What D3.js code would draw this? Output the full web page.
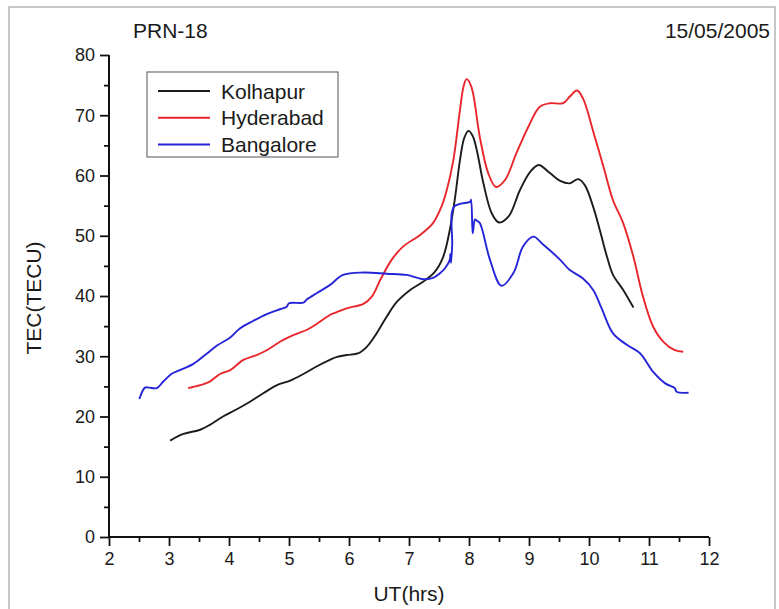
<!DOCTYPE html>
<html><head><meta charset="utf-8">
<script src="https://cdn.jsdelivr.net/npm/d3@7"></script>
<style>
html,body{margin:0;padding:0;background:#fff;}
svg{display:block;font-family:"Liberation Sans",Arial,sans-serif;}
</style></head>
<body>
<svg id="chart" width="779" height="609"></svg>
<script>
const seriesNames = ["Kolhapur","Hyderabad","Bangalore"];
const seriesColors = ["#1c1c1c","#e8262b","#2424d8"];

const kolhapurX = [3.02,3.24,3.52,3.68,3.9,4.13,4.35,4.57,4.8,5.02,5.24,5.46,5.68,5.8,5.96,6.16,6.3,6.46,6.63,6.8,7.02,7.24,7.43,7.57,7.68,7.77,7.85,7.92,7.99,8.06,8.13,8.24,8.38,8.5,8.66,8.85,9.02,9.16,9.35,9.52,9.68,9.82,9.93,10.07,10.18,10.3,10.4,10.57,10.74];
const kolhapurY = [16.0,17.1,17.8,18.6,20.0,21.2,22.45,23.85,25.2,25.95,27.05,28.3,29.4,29.9,30.2,30.5,31.6,33.8,36.6,39.05,41.0,42.4,44.0,46.5,50.95,56.5,62.6,66.2,67.4,66.6,64.2,58.7,53.7,52.2,53.2,57.6,60.6,61.75,60.4,59.1,58.7,59.4,58.4,54.8,50.95,46.5,43.5,41.0,38.1];

const hyderabadX = [3.32,3.52,3.68,3.85,4.02,4.24,4.46,4.63,4.85,5.07,5.3,5.46,5.68,5.74,5.96,6.24,6.38,6.52,6.71,6.9,7.18,7.4,7.54,7.63,7.74,7.85,7.91,7.96,8.04,8.18,8.32,8.45,8.6,8.79,8.99,9.18,9.35,9.57,9.68,9.8,9.9,10.07,10.24,10.4,10.57,10.74,10.9,11.07,11.24,11.43,11.57];
const hyderabadY = [24.7,25.2,25.8,27.05,27.7,29.4,30.2,31.0,32.4,33.5,34.4,35.35,36.85,37.1,37.95,38.7,39.9,42.65,46.0,48.2,50.1,52.1,54.8,57.6,62.6,70.9,74.8,76.0,74.7,66.4,60.4,58.1,59.25,63.7,68.1,71.4,72.0,72.0,73.1,74.1,72.8,67.3,61.5,55.9,52.1,46.5,39.9,34.9,32.4,31.0,30.75];

const bangaloreX = [2.505,2.6,2.67,2.795,2.905,3.04,3.18,3.4,3.6,3.82,4.02,4.18,4.4,4.63,4.85,4.96,5.0,5.24,5.3,5.46,5.68,5.9,6.24,6.63,6.96,7.24,7.4,7.52,7.6,7.68,7.69,7.70,7.72,7.75,8.02,8.035,8.06,8.07,8.1,8.13,8.18,8.35,8.54,8.74,8.9,9.07,9.24,9.52,9.68,9.9,10.07,10.21,10.4,10.63,10.85,11.07,11.27,11.43,11.46,11.66];
const bangaloreY = [22.9,24.8,24.8,24.7,25.8,27.05,27.7,28.7,30.2,31.9,33.1,34.6,35.85,37.0,37.8,38.2,38.8,38.9,39.45,40.45,41.8,43.5,43.9,43.7,43.5,42.8,43.0,43.8,44.6,46.0,47.0,45.5,48.5,54.8,55.65,56.0,50.4,51.0,52.7,52.5,52.1,46.0,41.7,43.8,48.2,49.85,48.5,46.0,44.3,42.9,41.0,37.95,33.8,31.9,30.5,27.4,25.5,24.7,24.1,23.95];

const xTicks = [2,3,4,5,6,7,8,9,10,11,12];
const yTicks = [0,10,20,30,40,50,60,70,80];
const title = "PRN-18";
const dateLabel = "15/05/2005";
const xTitle = "UT(hrs)";
const yTitle = "TEC(TECU)";

const svg = d3.select("#chart");
const x = d3.scaleLinear().domain([2,12]).range([109,709]);
const y = d3.scaleLinear().domain([0,80]).range([537,55]);

// outer frame
svg.append("rect").attr("x",9).attr("y",7).attr("width",766).attr("height",640)
  .attr("fill","none").attr("stroke","#b5b5b5").attr("stroke-width",1.5);

// minor ticks
const xMinor = d3.range(2.5,12,1);
const yMinor = d3.range(5,80,10);
const gx = svg.append("g").attr("transform","translate(0,537)");
gx.call(d3.axisBottom(x).tickValues(xMinor).tickSize(5).tickFormat(""));
const gy = svg.append("g").attr("transform","translate(109,0)");
gy.call(d3.axisLeft(y).tickValues(yMinor).tickSize(5).tickFormat(""));
const gx2 = svg.append("g").attr("transform","translate(0,537)");
gx2.call(d3.axisBottom(x).tickValues(xTicks).tickSize(9).tickPadding(6).tickFormat(d3.format("d")));
const gy2 = svg.append("g").attr("transform","translate(109,0)");
gy2.call(d3.axisLeft(y).tickValues(yTicks).tickSize(9).tickPadding(5).tickFormat(d3.format("d")));
svg.selectAll(".domain").attr("stroke","#111").attr("stroke-width",2);
svg.selectAll(".tick line").attr("stroke","#111").attr("stroke-width",1.8);
svg.selectAll(".tick text").attr("font-size",18).attr("fill","#1a1a1a")
   .attr("font-family","'Liberation Sans',Arial,sans-serif");
gx2.selectAll(".domain").attr("d","M109,0H709");
gy2.selectAll(".domain").attr("d","M0,537V55");
gx.selectAll(".domain").remove(); gy.selectAll(".domain").remove();

// lines
const data = [
  kolhapurX.map((v,i)=>[v,kolhapurY[i]]),
  hyderabadX.map((v,i)=>[v,hyderabadY[i]]),
  bangaloreX.map((v,i)=>[v,bangaloreY[i]])
];
const smooth = d3.line().x(d=>x(d[0])).y(d=>y(d[1])).curve(d3.curveCatmullRom.alpha(0.5));
data.forEach((pts,i)=>{
  svg.append("path").attr("d",smooth(pts)).attr("fill","none")
    .attr("stroke",seriesColors[i]).attr("stroke-width",1.9).attr("stroke-linejoin","round");
});

// legend
const lg = svg.append("g");
lg.append("rect").attr("x",147).attr("y",72).attr("width",191).attr("height",85)
  .attr("fill","#fff").attr("stroke","#707070").attr("stroke-width",1.2);
seriesNames.forEach((n,i)=>{
  const yy = 91 + i*26.7;
  lg.append("line").attr("x1",158).attr("x2",210).attr("y1",yy).attr("y2",yy)
    .attr("stroke",seriesColors[i]).attr("stroke-width",2);
  lg.append("text").attr("x",221).attr("y",yy+7.5).attr("font-size",21).attr("fill","#1a1a1a").text(n);
});

// titles
svg.append("text").attr("x",133).attr("y",37.5).attr("font-size",21).attr("fill","#1a1a1a").text(title);
svg.append("text").attr("x",770).attr("y",37.5).attr("text-anchor","end").attr("font-size",21).attr("fill","#1a1a1a").text(dateLabel);
svg.append("text").attr("x",409).attr("y",601).attr("text-anchor","middle").attr("font-size",21).attr("fill","#1a1a1a").text(xTitle);
svg.append("text").attr("transform","translate(41,298) rotate(-90)").attr("text-anchor","middle").attr("font-size",21).attr("fill","#1a1a1a").text(yTitle);
</script>
</body></html>
